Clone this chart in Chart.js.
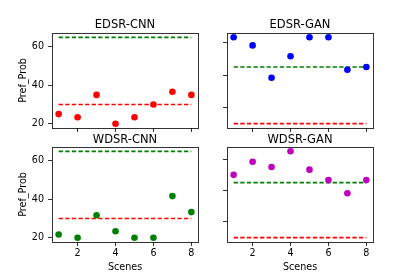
<!DOCTYPE html>
<html lang="en">
<head>
    <meta charset="UTF-8">
    <title>Pref_Prob per scene</title>
    <script src="https://cdn.jsdelivr.net/npm/chart.js"></script>
    <style>
        body {
            margin: 0;
            padding: 0;
            background: white;
        }
        #wrap {
            position: relative;
            width: 415px;
            height: 277px;
            overflow: hidden;
        }
        .panel {
            position: absolute;
        }
    </style>
</head>
<body>

<div id="wrap">
    <canvas class="panel" id="edsrCnn" width="210" height="140" style="left:0;top:0"></canvas>
    <canvas class="panel" id="edsrGan" width="208" height="140" style="left:207px;top:0"></canvas>
    <canvas class="panel" id="wdsrCnn" width="210" height="152" style="left:0;top:125px"></canvas>
    <canvas class="panel" id="wdsrGan" width="208" height="152" style="left:207px;top:125px"></canvas>
</div>

<script>
    // data
    const scenes = [1, 2, 3, 4, 5, 6, 7, 8];
    const edsrCnn = [25, 23.33, 35, 20, 23.33, 30, 36.67, 35];
    const edsrGan = [83.33, 78.33, 58.33, 71.67, 83.33, 83.33, 63.33, 65];
    const wdsrCnn = [21.67, 20, 31.67, 23.33, 20, 20, 41.67, 33.33];
    const wdsrGan = [70, 78.33, 75, 85, 73.33, 66.67, 58.33, 66.67];
    const upperLevel = 65;
    const lowerLevel = 30;
    const xTicks = [2, 4, 6, 8];
    const yTicksCnn = [20, 40, 60];
    const yTicksGan = [40, 60, 80];

    Chart.defaults.font.family = "'DejaVu Sans', sans-serif";
    Chart.defaults.color = '#000';

    const frameColor = 'rgba(0,0,0,0.8)';

    const framePlugin = {
        id: 'frame',
        afterDraw(chart) {
            const a = chart.chartArea;
            const ctx = chart.ctx;
            ctx.save();
            ctx.strokeStyle = frameColor;
            ctx.lineWidth = 1;
            ctx.strokeRect(Math.round(a.left) + 0.5, Math.round(a.top) + 0.5,
                Math.round(a.right - a.left), Math.round(a.bottom - a.top));
            ctx.restore();
        }
    };

    function levelLine(value, color) {
        return {
            data: [{x: scenes[0], y: value}, {x: scenes[scenes.length - 1], y: value}],
            showLine: true,
            borderColor: color,
            borderWidth: 1.7,
            borderDash: [4.3, 2.3],
            pointRadius: 0
        };
    }

    function makePanel(id, cfg) {
        const ctx = document.getElementById(id).getContext('2d');
        return new Chart(ctx, {
            type: 'scatter',
            data: {
                datasets: [
                    {
                        data: scenes.map((s, i) => ({x: s, y: cfg.values[i]})),
                        backgroundColor: cfg.color,
                        borderWidth: 0,
                        pointRadius: 3.3
                    },
                    levelLine(upperLevel, '#008000'),
                    levelLine(lowerLevel, '#ff0000')
                ]
            },
            options: {
                responsive: false,
                devicePixelRatio: 1,
                animation: false,
                events: [],
                layout: { padding: { left: 0, right: cfg.padRight, top: 0, bottom: 0 } },
                plugins: {
                    legend: { display: false },
                    tooltip: { enabled: false },
                    title: {
                        display: true,
                        fullSize: false,
                        text: cfg.title,
                        color: '#000',
                        font: { size: 11.5, weight: 'normal' },
                        padding: cfg.titlePad
                    }
                },
                scales: {
                    x: {
                        type: 'linear',
                        min: 0.65,
                        max: 8.35,
                        afterBuildTicks: s => { s.ticks = xTicks.map(v => ({value: v})); },
                        afterFit: s => { s.height = cfg.xHeight; },
                        grid: { drawOnChartArea: false, drawTicks: true, tickLength: 4, color: frameColor },
                        border: { display: false },
                        ticks: { display: cfg.xLabels, font: { size: 9.6 }, padding: 2, maxRotation: 0 },
                        title: {
                            display: cfg.xLabels,
                            text: 'Scenes',
                            font: { size: 9.6 },
                            padding: { top: 0, bottom: 4.2 }
                        }
                    },
                    y: {
                        min: cfg.yMin,
                        max: cfg.yMax,
                        afterBuildTicks: s => { s.ticks = cfg.yTicks.map(v => ({value: v})); },
                        afterFit: s => { s.width = cfg.yWidth; },
                        grid: { drawOnChartArea: false, drawTicks: true, tickLength: 4, color: frameColor },
                        border: { display: false },
                        ticks: { display: cfg.yLabels, font: { size: 9.6 }, padding: 4 },
                        title: {
                            display: cfg.yLabels,
                            text: 'Pref_Prob',
                            font: { size: 9.6 },
                            padding: { top: 18, bottom: 0 }
                        }
                    }
                }
            },
            plugins: [framePlugin]
        });
    }

    makePanel('edsrCnn', {
        title: 'EDSR-CNN', values: edsrCnn, color: '#ff0000',
        yMin: 17.75, yMax: 67.25, yTicks: yTicksCnn,
        yLabels: true, xLabels: false, yWidth: 52, xHeight: 12, padRight: 12,
        titlePad: { top: 18, bottom: 1.2 }
    });
    makePanel('edsrGan', {
        title: 'EDSR-GAN', values: edsrGan, color: '#0000ff',
        yMin: 27.35, yMax: 86.0, yTicks: yTicksGan,
        yLabels: false, xLabels: false, yWidth: 20, xHeight: 12, padRight: 42,
        titlePad: { top: 18, bottom: 1.2 }
    });
    makePanel('wdsrCnn', {
        title: 'WDSR-CNN', values: wdsrCnn, color: '#008000',
        yMin: 17.75, yMax: 67.25, yTicks: yTicksCnn,
        yLabels: true, xLabels: true, yWidth: 52, xHeight: 35, padRight: 12,
        titlePad: { top: 7.8, bottom: 0.4 }
    });
    makePanel('wdsrGan', {
        title: 'WDSR-GAN', values: wdsrGan, color: '#bf00bf',
        yMin: 27.25, yMax: 87.75, yTicks: yTicksGan,
        yLabels: false, xLabels: true, yWidth: 20, xHeight: 35, padRight: 42,
        titlePad: { top: 7.8, bottom: 0.4 }
    });
</script>

</body>
</html>
